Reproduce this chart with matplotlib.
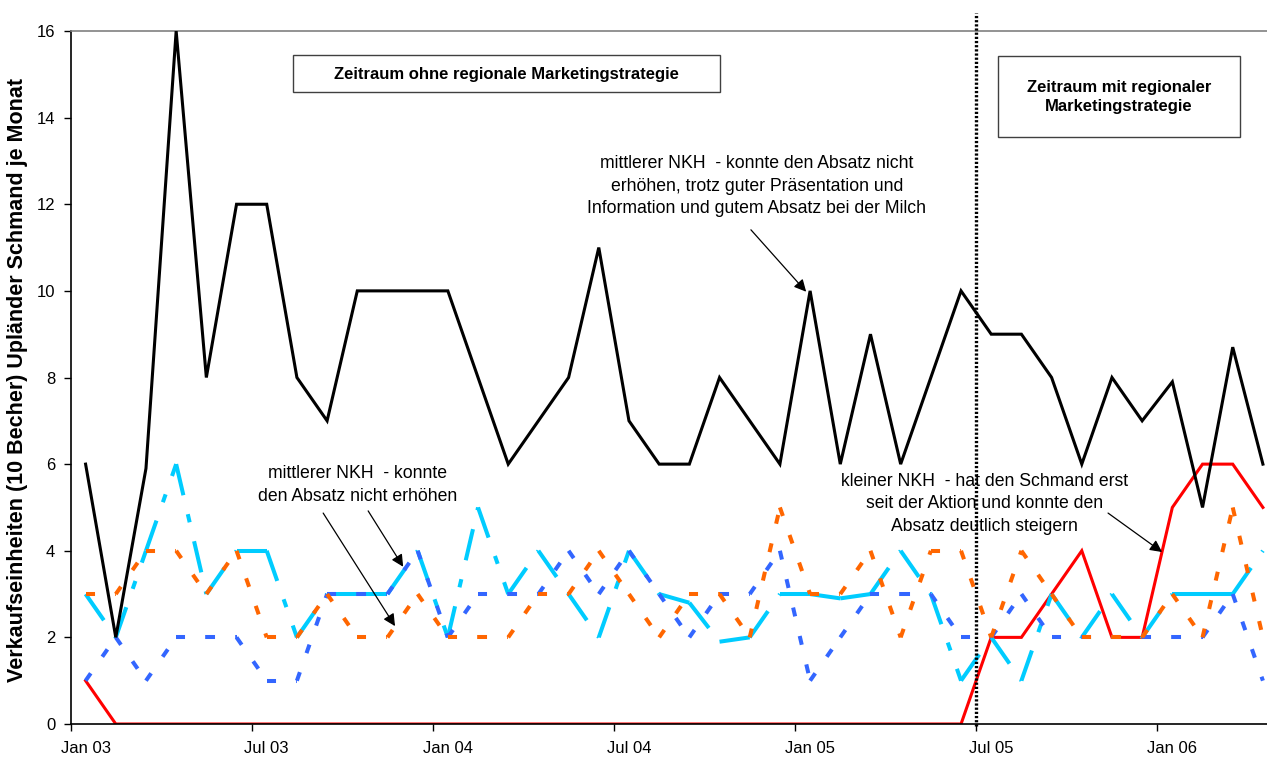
import numpy as np
import matplotlib
matplotlib.use('Agg')
import matplotlib.pyplot as plt
from matplotlib.patches import Rectangle

plt.rcParams['font.family'] = ['Liberation Sans', 'DejaVu Sans']
plt.rcParams['lines.scale_dashes'] = False

# monthly sales, Jan 03 .. Apr 06
black = [6, 2, 5.9, 16, 8, 12, 12, 8, 7, 10, 10, 10, 10, 8, 6, 7, 8, 11, 7, 6,
         6, 8, 7, 6, 10, 6, 9, 6, 8, 10, 9, 9, 8, 6, 8, 7, 7.9, 5, 8.7, 6]
red = [1, 0, 0, 0, 0, 0, 0, 0, 0, 0, 0, 0, 0, 0, 0, 0, 0, 0, 0, 0,
       0, 0, 0, 0, 0, 0, 0, 0, 0, 0, 2, 2, 3, 4, 2, 2, 5, 6, 6, 5]
cyan = [3, 2, 4, 6, 3, 4, 4, 2, 3, 3, 3, 4, 2, 5, 3, 4, 3, 2, 4, 3,
        2.8, 1.9, 2, 3, 3, 2.9, 3, 4, 3, 1, 2, 1, 3, 2, 3, 2, 3, 3, 3, 4]
orange = [3, 3, 4, 4, 3, 4, 2, 2, 3, 2, 2, 3, 2, 2, 2, 3, 3, 4, 3, 2,
          3, 3, 2, 5, 3, 3, 4, 2, 4, 4, 2, 4, 3, 2, 2, 2, 3, 2, 5, 2]
blue = [1, 2, 1, 2, 2, 2, 1, 1, 3, 3, 3, 4, 2, 3, 3, 3, 4, 3, 4, 3,
        2, 3, 3, 4, 1, 2, 3, 3, 3, 2, 2, 3, 2, 2, 2, 2, 2, 2, 3, 1]

tick_labels = ['Jan 03', 'Jul 03', 'Jan 04', 'Jul 04', 'Jan 05', 'Jul 05', 'Jan 06']
start_idx = 29.5  # start of the regional campaign (between Jun 05 and Jul 05)

W, H = 1267, 765
fig = plt.figure(figsize=(W / 100, H / 100), dpi=100)
ax = fig.add_axes([70.5 / W, 1 - 724 / H, 1 - 70.5 / W, (724 - 31) / H])

x = np.arange(len(black))


def dashed(values, color, dashes, lw, z):
    # each segment gets its own dash pattern, starting fresh at every point
    for i in range(len(values) - 1):
        ax.plot(x[i:i + 2], values[i:i + 2], color=color, lw=lw,
                dashes=dashes, dash_capstyle='butt', zorder=z)


ax.plot(x, red, color='#FF0000', lw=2.2, zorder=2, solid_joinstyle='miter')
dashed(cyan, '#00CCFF', (23, 14, 6, 14), 2.9, 3)
dashed(blue, '#3366FF', (6.5, 14.5), 2.9, 4)
dashed(orange, '#FF6600', (6.5, 14.5), 2.9, 5)
ax.plot(x, black, color='black', lw=2.2, zorder=6, solid_joinstyle='miter')

ax.plot([start_idx, start_idx], [-0.05, 16.42], color='black', lw=2.4,
        dashes=(1.6, 1.4), clip_on=False, zorder=7)

ax.set_xlim(-0.5, (W - 85.5) / 30.19)
ax.set_ylim(0, 16)
ax.set_yticks(range(0, 17, 2))
ax.set_xticks(np.arange(-0.5, 40, 6))
ax.set_xticklabels([])
ax.set_xticks(np.arange(0, 40, 6), tick_labels, minor=True)
ax.tick_params(axis='x', which='major', length=5, width=1, direction='out')
ax.tick_params(axis='x', which='minor', length=0, pad=12, labelsize=12)
ax.tick_params(axis='y', length=5, width=1, direction='out', pad=6, labelsize=12)

ax.spines['right'].set_visible(False)
ax.spines['top'].set_color('#808080')
ax.spines['top'].set_linewidth(1.2)
ax.spines['left'].set_linewidth(1.2)
ax.spines['bottom'].set_linewidth(1.2)

fig.text(18 / W, 1 - 380 / H, 'Verkaufseinheiten (10 Becher) Upländer Schmand je Monat',
         rotation=90, ha='center', va='center', fontsize=15.5, fontweight='bold')

# period boxes
for (x0, y0, x1, y1) in [(293, 55, 720, 92), (998, 56, 1240, 137)]:
    fig.patches.append(Rectangle((x0 / W, 1 - y1 / H), (x1 - x0) / W, (y1 - y0) / H,
                                 transform=fig.transFigure, fill=True, facecolor='white',
                                 edgecolor='#404040', lw=1, zorder=8))
fig.text(506 / W, 1 - 74 / H, 'Zeitraum ohne regionale Marketingstrategie',
         ha='center', va='center', fontsize=12, fontweight='bold', zorder=9)
fig.text(1119 / W, 1 - 97 / H, 'Zeitraum mit regionaler\nMarketingstrategie',
         ha='center', va='center', fontsize=12, fontweight='bold',
         linespacing=1.4, zorder=9)

arrow = dict(arrowstyle='-|>', mutation_scale=18, lw=0.9, color='black',
             shrinkA=0, shrinkB=0)
ax.text(22.24, 12.42, 'mittlerer NKH  - konnte den Absatz nicht\n'
        'erhöhen, trotz guter Präsentation und\n'
        'Information und gutem Absatz bei der Milch',
        ha='center', va='center', fontsize=12.7, linespacing=1.45, zorder=9)
ax.annotate('', xy=(23.87, 9.98), xytext=(22.04, 11.41), arrowprops=arrow, zorder=9)

ax.text(9.0, 5.52, 'mittlerer NKH  - konnte\nden Absatz nicht erhöhen',
        ha='center', va='center', fontsize=12.7, linespacing=1.45, zorder=9)
ax.annotate('', xy=(10.52, 3.63), xytext=(9.36, 4.92), arrowprops=arrow, zorder=9)
ax.annotate('', xy=(10.25, 2.26), xytext=(7.87, 4.87), arrowprops=arrow, zorder=9)

ax.text(29.79, 5.08, 'kleiner NKH  - hat den Schmand erst\nseit der Aktion und konnte den\n'
        'Absatz deutlich steigern',
        ha='center', va='center', fontsize=12.7, linespacing=1.45, zorder=9)
ax.annotate('', xy=(35.66, 3.97), xytext=(33.87, 4.87), arrowprops=arrow, zorder=9)

fig.savefig('out.png', dpi=100)
